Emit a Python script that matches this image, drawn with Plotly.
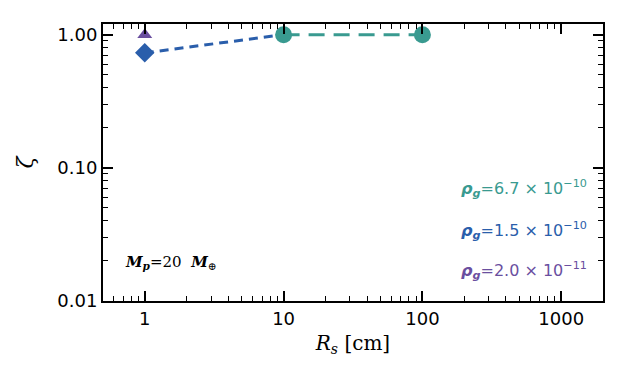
import math
import plotly.graph_objects as go

# Data
teal_x = [10, 100]
teal_y = [1.0, 1.0]
blue_x = [1, 10]
blue_y = [0.73, 1.0]
purple_x = [1]
purple_y = [1.0]

x_tickvals = [1, 10, 100, 1000]
x_ticktext = ["1", "10", "100", "1000"]
y_tickvals = [0.01, 0.1, 1.0]
y_ticktext = ["0.01", "0.10", "1.00"]
x_minor = [0.6, 0.7, 0.8, 0.9] + [m * d for d in (1, 10, 100) for m in range(2, 10)]
y_minor = [m * d for d in (0.01, 0.1) for m in range(2, 10)]

label_vals = ["6.7", "1.5", "2.0"]
label_exps = ["10", "10", "11"]
label_y = [0.070, 0.034, 0.017]

TEAL = "#399a90"
BLUE = "#2a5eab"
PURPLE = "#6a4f9f"
label_cols = [TEAL, BLUE, PURPLE]

fig = go.Figure()
fig.add_trace(go.Scatter(x=blue_x, y=blue_y, mode="lines",
                         line=dict(color=BLUE, width=3, dash="9px,6px"), showlegend=False))
fig.add_trace(go.Scatter(x=blue_x[:1], y=blue_y[:1], mode="markers",
                         marker=dict(symbol="diamond", size=15, color=BLUE), showlegend=False))
fig.add_trace(go.Scatter(x=teal_x, y=teal_y, mode="lines+markers",
                         line=dict(color=TEAL, width=3, dash="16px,9px"),
                         marker=dict(symbol="circle", size=17, color=TEAL), showlegend=False))
fig.add_trace(go.Scatter(x=purple_x, y=purple_y, mode="markers",
                         marker=dict(symbol="triangle-up", size=13, color=PURPLE), showlegend=False))
# invisible trace to activate minor-tick axes
fig.add_trace(go.Scatter(x=[1], y=[1], xaxis="x2", yaxis="y2", mode="markers",
                         marker=dict(opacity=0), hoverinfo="skip", showlegend=False))

for val, exp, col, yy in zip(label_vals, label_exps, label_cols, label_y):
    fig.add_annotation(
        x=1, xref="paper", xanchor="right", xshift=-14, y=math.log10(yy), yref="y",
        text=f"<b><i>ρ<sub>g</sub></i></b>={val} × 10<sup>−{exp}</sup>",
        showarrow=False, font=dict(color=col, size=16, family="DejaVu Sans"))

fig.add_annotation(x=0.04, xref="paper", xanchor="left", y=math.log10(0.0195), yref="y",
                   text="<i><b>M<sub>p</sub></b></i>=20  <i><b>M</b></i><sub>⊕</sub>",
                   showarrow=False, font=dict(color="black", size=15, family="DejaVu Serif"))

xr = [-0.301, 3.301]
yr = [-2, 0.08]

fig.update_layout(
    width=641, height=385, margin=dict(l=95, r=46, t=16, b=92),
    plot_bgcolor="white", paper_bgcolor="white",
    xaxis=dict(type="log", range=xr, tickvals=x_tickvals, ticktext=x_ticktext, automargin=False,
               showline=True, linecolor="black", linewidth=2, mirror="ticks",
               ticks="inside", ticklen=10, tickwidth=1.5, tickcolor="black",
               showgrid=False, zeroline=False,
               tickfont=dict(family="DejaVu Sans", size=18, color="black"),
               title=dict(text="<i>R<sub>s</sub></i> [cm]",
                          font=dict(family="DejaVu Serif", size=20, color="black"), standoff=8)),
    yaxis=dict(type="log", range=yr, tickvals=y_tickvals, ticktext=y_ticktext, automargin=False,
               showline=True, linecolor="black", linewidth=2, mirror="ticks",
               ticks="inside", ticklen=10, tickwidth=1.5, tickcolor="black",
               showgrid=False, zeroline=False,
               tickfont=dict(family="DejaVu Sans", size=18, color="black"),
               title=dict(text="<i>ζ</i>", font=dict(family="DejaVu Serif", size=22, color="black"),
                          standoff=18)),
    xaxis2=dict(type="log", range=xr, overlaying="x", anchor="y2", side="bottom", automargin=False,
                tickvals=x_minor, showticklabels=False, ticks="inside", ticklen=5,
                tickwidth=1.2, tickcolor="black", mirror="ticks", showline=False,
                showgrid=False, zeroline=False),
    yaxis2=dict(type="log", range=yr, overlaying="y", anchor="x2", side="left", automargin=False,
                tickvals=y_minor, showticklabels=False, ticks="inside", ticklen=5,
                tickwidth=1.2, tickcolor="black", mirror="ticks", showline=False,
                showgrid=False, zeroline=False),
)

fig.write_html("out.html")
